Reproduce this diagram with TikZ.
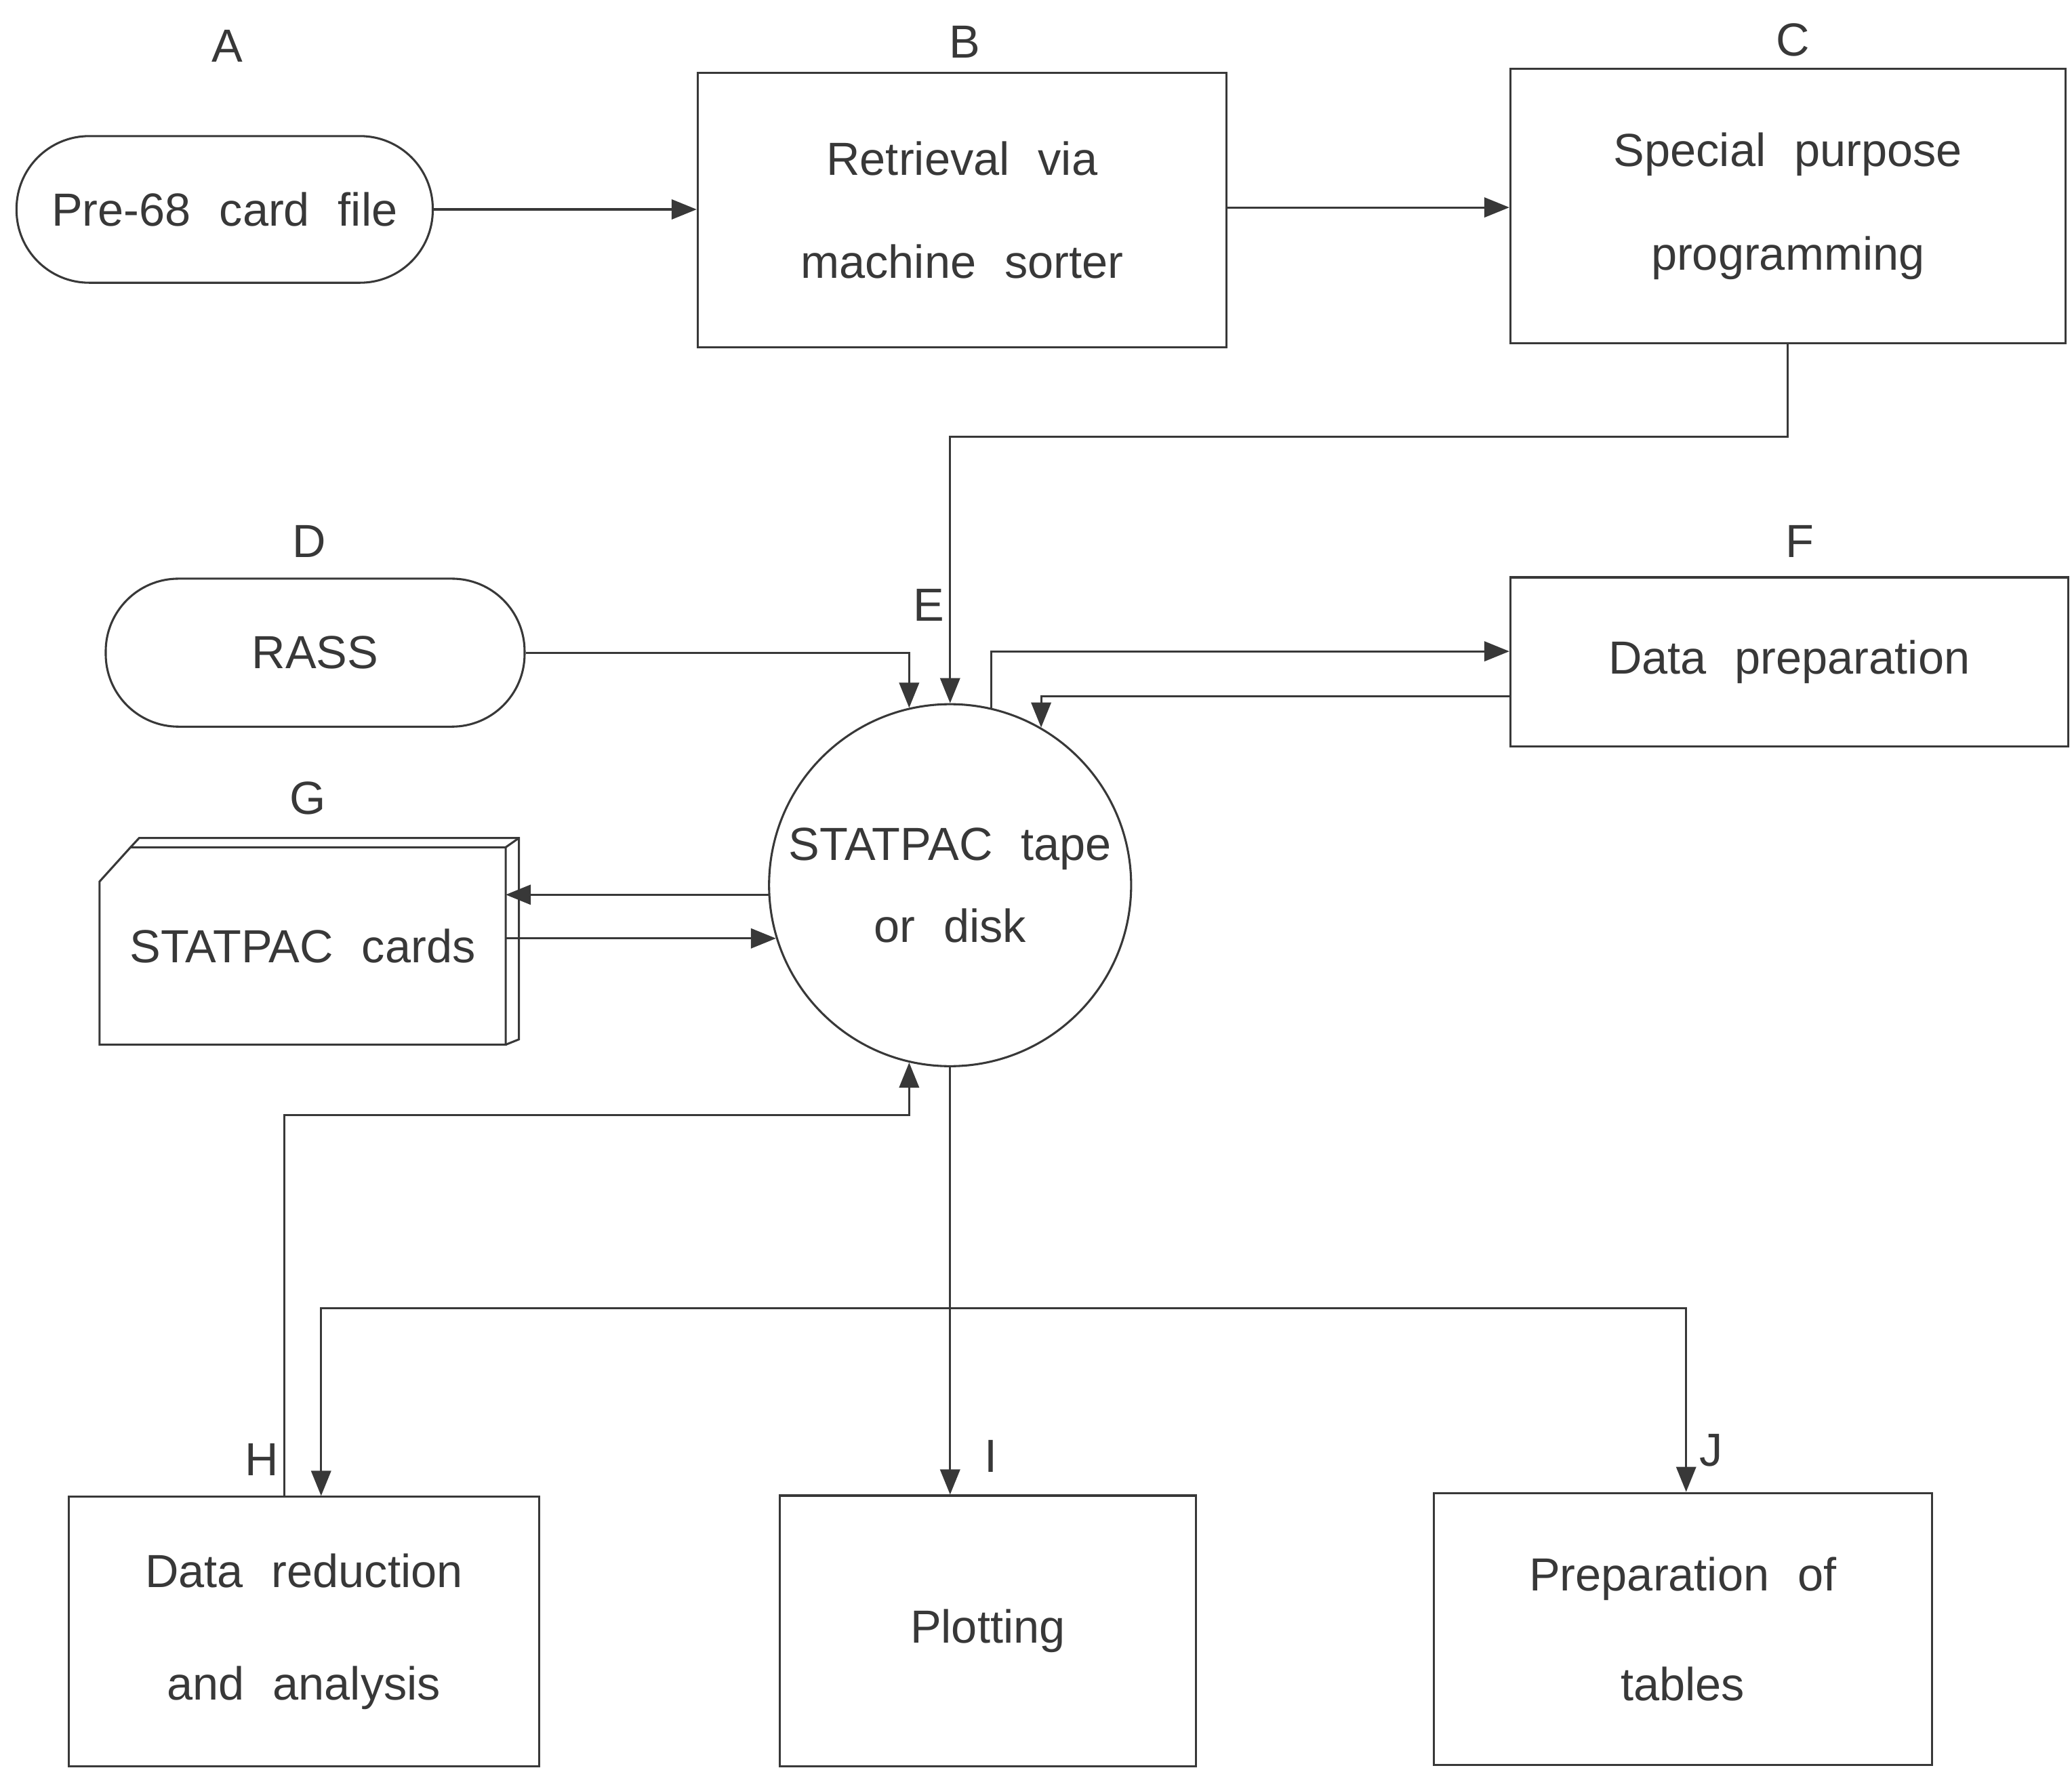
\documentclass[tikz,border=0pt]{standalone}
\usepackage{fontspec}
\setmainfont{Liberation Sans}[WordSpace=2.2]
\usetikzlibrary{arrows.meta}
\definecolor{ink}{HTML}{383838}
\begin{document}
\begin{tikzpicture}[x=0.1mm,y=-0.1mm,
  every node/.style={font=\fontsize{10}{12}\selectfont, text=ink},
  line/.style={draw=ink, line width=0.45pt},
  arr/.style={line, -{Triangle[length=1.9mm,width=1.5mm]}},
  box/.style={draw=ink, line width=0.45pt, rectangle, inner sep=0pt, align=center},
  term/.style={box, rounded corners=5.5mm},
  tag/.style={inner sep=0pt, anchor=center},
]
\useasboundingbox (0,0) rectangle (1568,1338);

% stages
\node[term, minimum width=31.5mm, minimum height=11.1mm] (A) at (170,158.5) {Pre-68 card file};
\node[box, minimum width=40mm, minimum height=20.8mm] (B) at (728,159) {Retrieval via\\[10.2pt]machine sorter};
\node[box, minimum width=42mm, minimum height=20.8mm] (C) at (1353,156) {Special purpose\\[10.4pt]programming};
\node[term, minimum width=31.7mm, minimum height=11.2mm] (D) at (238.5,494) {RASS};
\node[box, circle, minimum size=27.4mm] (E) at (719,670) {STATPAC tape\\[5.6pt]or disk};
\node[box, minimum width=42.2mm, minimum height=12.8mm] (F) at (1354,501) {Data preparation};
\node[rectangle, inner sep=0pt, minimum width=30.6mm, minimum height=14.8mm] (G) at (229,716) {STATPAC cards};
\node[box, minimum width=35.6mm, minimum height=20.4mm] (H) at (230,1235) {Data reduction\\[12.2pt]and analysis};
\node[box, minimum width=31.5mm, minimum height=20.5mm] (I) at (747.5,1234.5) {Plotting};
\node[box, minimum width=37.7mm, minimum height=20.6mm] (J) at (1273.5,1233) {Preparation of\\[11.6pt]tables};

% card deck outline
\draw[line] (G.south west) -- (G.south east) -- (G.north east)
  -- ([xshift=2.35mm]G.north west) -- ([yshift=-2.6mm]G.north west) -- cycle;
\draw[line] ([xshift=2.35mm]G.north west) -- ++(6.5,-7) -| ([xshift=1mm,yshift=0.4mm]G.south east) -- (G.south east);
\draw[line] (G.north east) -- ++(10,-7);

% letters
\node[tag] (lA) at (172,35) {A};
\node[tag] (lB) at (730,32) {B};
\node[tag] (lC) at (1357,30) {C};
\node[tag] (lD) at (234,410) {D};
\node[tag] (lE) at (703,458) {E};
\node[tag] (lF) at (1362,410) {F};
\node[tag] (lG) at (233,604) {G};
\node[tag] (lH) at (198,1105) {H};
\node[tag] (lI) at (750,1102) {I};
\node[tag] (lJ) at (1295,1098) {J};

% flows
\draw[arr] (A.east) -- (A.east -| B.west);
\draw[arr] (B.east |- 0,157) -- (C.west |- 0,157);
\draw[arr] (C.south) -- ++(0,70) -| (E.north);
\draw[arr] (D.east) -| (E.103);
\draw[arr] (E.77) |- ([yshift=0.8mm]F.west);
\draw[arr] ([yshift=-2.6mm]F.west) -| (E.60);
\draw[arr] (E.183) -- (E.183 -| G.east);
\draw[arr] (E.197 -| G.east) -- (E.197);
\draw[arr] ([xshift=-1.5mm]H.north) -- ++(0,-288) -| (E.257);
\coordinate (split) at (E.south |- 0,990);
\draw[arr] (E.south) -- (E.south |- I.north);
\draw[arr] (split) -| ([xshift=1.3mm]H.north);
\draw[arr] (split) -| ([xshift=0.25mm]J.north);
\end{tikzpicture}
\end{document}
